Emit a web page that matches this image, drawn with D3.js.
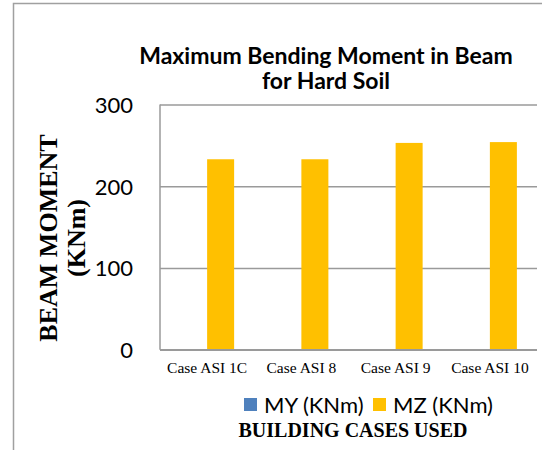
<!DOCTYPE html>
<html>
<head>
<meta charset="utf-8">
<script src="https://cdn.jsdelivr.net/npm/d3@7"></script>
<style>
  html, body { margin: 0; padding: 0; background: #fff; }
  svg { display: block; }
</style>
</head>
<body>
<svg id="chart" width="542" height="450"></svg>
<script>
// Data
const categories = ["Case ASI 1C", "Case ASI 8", "Case ASI 9", "Case ASI 10"];
const seriesNames = ["MY (KNm)", "MZ (KNm)"];
const myValues = [0, 0, 0, 0];
const mzValues = [233, 233, 253, 254];
const yTicks = [0, 100, 200, 300];
const chartTitle = ["Maximum Bending Moment in Beam", "for Hard Soil"];
const yTitle = ["BEAM MOMENT", "(KNm)"];
const xTitle = "BUILDING CASES USED";

const colors = { "MY (KNm)": "#4F81BD", "MZ (KNm)": "#FFC000" };
const sansFont = "Lato, 'Open Sans', sans-serif";
const serifFont = "'Liberation Serif', 'DejaVu Serif', serif";

const svg = d3.select("#chart");

// Chart outer frame
svg.append("rect")
  .attr("x", 13.5).attr("y", 3.5)
  .attr("width", 600).attr("height", 500)
  .attr("fill", "none").attr("stroke", "#a0a0a0").attr("stroke-width", 1.5);

const plot = { left: 160, right: 537, top: 104.5, bottom: 349.7 };

const x = d3.scaleBand()
  .domain(categories)
  .range([plot.left, plot.right])
  .paddingInner(0.427)
  .paddingOuter(0.2135);

const xInner = d3.scaleBand()
  .domain(seriesNames)
  .range([0, x.bandwidth()]);

const y = d3.scaleLinear()
  .domain([0, 300])
  .range([plot.bottom, plot.top]);

// Gridlines and tick labels
const yAxis = d3.axisLeft(y)
  .tickValues(yTicks)
  .tickSize(-(plot.right - plot.left))
  .tickPadding(27);

const gy = svg.append("g")
  .attr("transform", `translate(${plot.left},0)`)
  .call(yAxis);
gy.select(".domain").remove();
gy.selectAll(".tick line")
  .attr("stroke", "#9a9a9a").attr("stroke-width", 1.5);
gy.selectAll(".tick text")
  .attr("fill", "#000")
  .style("font-family", sansFont)
  .style("font-size", "22px")
  .attr("dy", "0.36em");

// Bars
const rows = categories.map((c, i) => ({
  cat: c,
  vals: [{ s: seriesNames[0], v: myValues[i] }, { s: seriesNames[1], v: mzValues[i] }]
}));

const groups = svg.append("g").selectAll("g")
  .data(rows)
  .join("g")
  .attr("transform", d => `translate(${x(d.cat)},0)`);

groups.selectAll("rect")
  .data(d => d.vals)
  .join("rect")
  .attr("x", d => xInner(d.s))
  .attr("width", xInner.bandwidth())
  .attr("y", d => y(d.v))
  .attr("height", d => y(0) - y(d.v))
  .attr("fill", d => colors[d.s]);

// Axis lines
svg.append("line")
  .attr("x1", plot.left).attr("x2", plot.left)
  .attr("y1", plot.top).attr("y2", plot.bottom)
  .attr("stroke", "#9a9a9a").attr("stroke-width", 1.5);
svg.append("line")
  .attr("x1", plot.left).attr("x2", plot.right)
  .attr("y1", plot.bottom).attr("y2", plot.bottom)
  .attr("stroke", "#9a9a9a").attr("stroke-width", 1.5);

// Category labels
const xAxis = d3.axisBottom(x).tickSize(0).tickPadding(0);
const gx = svg.append("g")
  .attr("transform", `translate(0,373)`)
  .call(xAxis);
gx.select(".domain").remove();
gx.selectAll(".tick text")
  .attr("y", 0).attr("dy", 0)
  .attr("fill", "#000")
  .style("font-family", serifFont)
  .style("font-size", "15.5px");

// Title, one text element per line
svg.append("g")
  .selectAll("text")
  .data(chartTitle)
  .join("text")
  .attr("text-anchor", "middle")
  .attr("x", 326)
  .attr("y", (d, i) => 64 + i * 25)
  .style("font-family", sansFont)
  .style("font-weight", "bold")
  .style("font-size", "23px")
  .text(d => d);

// Y axis title
svg.append("text")
  .attr("transform", "translate(57,238) rotate(-90)")
  .attr("text-anchor", "middle")
  .style("font-family", serifFont)
  .style("font-weight", "bold")
  .style("font-size", "26px")
  .selectAll("tspan")
  .data(yTitle)
  .join("tspan")
  .attr("x", 0)
  .attr("y", (d, i) => i * 28)
  .text(d => d);

// Legend
const legendItems = [
  { s: seriesNames[0], x: 244 },
  { s: seriesNames[1], x: 373 }
];
const lg = svg.append("g").selectAll("g")
  .data(legendItems)
  .join("g")
  .attr("transform", d => `translate(${d.x},398)`);
lg.append("rect")
  .attr("width", 13).attr("height", 13)
  .attr("fill", d => colors[d.s]);
lg.append("text")
  .attr("x", 20).attr("y", 15)
  .style("font-family", sansFont)
  .style("font-size", "22px")
  .attr("fill", "#000")
  .text(d => d.s);

// X axis title
svg.append("text")
  .attr("x", 353).attr("y", 437)
  .attr("text-anchor", "middle")
  .style("font-family", serifFont)
  .style("font-weight", "bold")
  .style("font-size", "20px")
  .text(xTitle);
</script>
</body>
</html>
